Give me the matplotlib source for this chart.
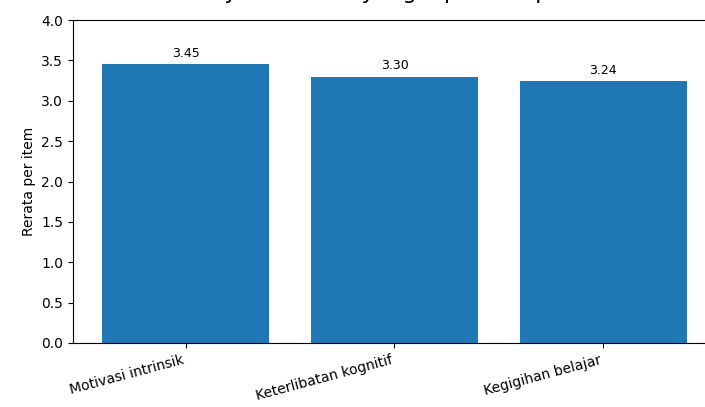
import matplotlib
matplotlib.use("Agg")
import matplotlib.pyplot as plt

categories = ["Motivasi intrinsik", "Keterlibatan kognitif", "Kegigihan belajar"]
means = [3.45, 3.30, 3.24]
value_labels = ["3.45", "3.30", "3.24"]
title = "Survey skor akhir yang diperoleh per item"

fig = plt.figure(figsize=(7.05, 4.07), dpi=100)
# the original picture is cropped: the axes run past the right edge
ax = fig.add_axes([73 / 705, 64 / 407, (716 - 73) / 705, (343 - 20) / 407])

x = range(len(categories))
bars = ax.bar(x, means, width=0.8, color="#1f77b4")
for b, lab in zip(bars, value_labels):
    ax.annotate(lab, (b.get_x() + b.get_width() / 2, b.get_height()),
                xytext=(0, 3), textcoords="offset points",
                ha="center", va="bottom", fontsize=9)

ax.set_ylim(0, 4.0)
ax.set_yticks([0.0, 0.5, 1.0, 1.5, 2.0, 2.5, 3.0, 3.5, 4.0])
ax.set_xticks(list(x))
ax.set_xticklabels(categories, rotation=15, ha="right")
ax.set_ylabel("Rerata per item")
ax.spines["right"].set_visible(False)
# only the descenders of the title are left inside the crop
ax.set_title(title, fontsize=16, pad=15)

fig.savefig("out.png", dpi=100)
